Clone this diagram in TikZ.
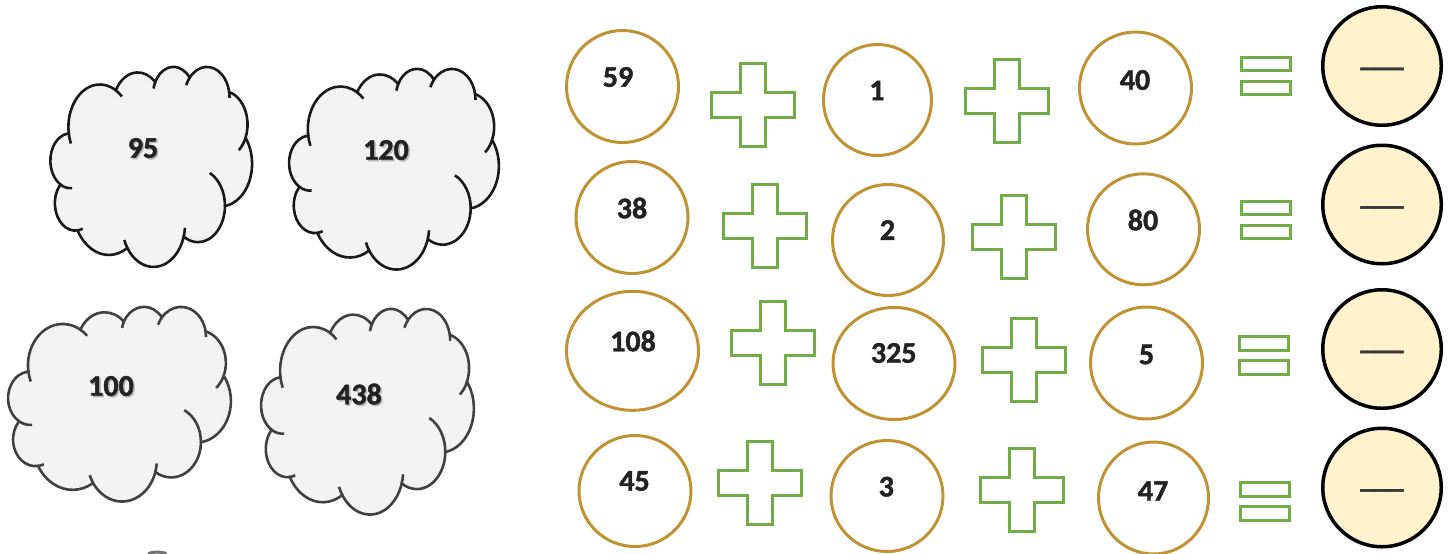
\documentclass[tikz,border=0pt]{standalone}
\usepackage{fontspec}
\setmainfont{Carlito}[BoldFont={Carlito Bold}, BoldFeatures={FakeBold=1.5}]
\usetikzlibrary{shapes.geometric}
\definecolor{ringgold}{RGB}{191,146,52}
\definecolor{plusgreen}{RGB}{112,173,71}
\definecolor{ansfill}{RGB}{255,242,204}
\definecolor{cloudfill}{RGB}{242,242,242}
\definecolor{numtext}{RGB}{34,34,34}
\begin{document}
\begin{tikzpicture}[x=0.5pt, y=-0.5pt,
		num/.style={font=\bfseries\fontsize{15}{18}\selectfont, text=numtext, inner sep=0pt},
		shade/.style={num, text=black!28},
		ring/.style 2 args={ellipse, draw=ringgold, line width=1.5pt, inner sep=0pt, minimum width=#1*0.5pt, minimum height=#2*0.5pt},
		answer/.style={circle, draw=black, line width=1.75pt, fill=ansfill, inner sep=0pt, minimum size=59.25pt},
		blank/.style={font=\bfseries\fontsize{14.5}{18}\selectfont, text=black!78, inner sep=0pt, anchor=base},
		plusline/.style={draw=plusgreen, line width=1.5pt},
		pics/plussign/.style={code={
			\draw[plusline] (-41.5,-12.5) -- (-12.5,-12.5) -- (-12.5,-41.5) -- (12.5,-41.5) -- (12.5,-12.5) -- (41.5,-12.5)
				-- (41.5,12.5) -- (12.5,12.5) -- (12.5,41.5) -- (-12.5,41.5) -- (-12.5,12.5) -- (-41.5,12.5) -- cycle;
		}},
		pics/equalsign/.style={code={
			\draw[plusline] (-24.5,-19) rectangle (24.5,-5.5);
			\draw[plusline] (-24.5,5) rectangle (24.5,18.5);
		}},
		pics/puffcloud/.style 2 args={code={
			\begin{scope}[xscale=#1/100, yscale=#2/100, line width=1.3pt]
			\draw[fill=cloudfill] (9.028,33.264)
				arc[start angle=-187.745, end angle=-59.63, x radius=15.632, y radius=21.273]
				arc[start angle=-152.02, end angle=-45.45, x radius=12.345, y radius=16.822]
				arc[start angle=-153.50, end angle=-37.33, x radius=10.104, y radius=13.762]
				arc[start angle=-139.72, end angle=-10.21, x radius=11.243, y radius=15.266]
				arc[start angle=-74.77, end angle=23.21, x radius=12.345, y radius=16.836]
				arc[start angle=-37.53, end angle=81.86, x radius=15.683, y radius=21.343]
				arc[start angle=0.46, end angle=121.97, x radius=13.391, y radius=18.211]
				arc[start angle=16.85, end angle=146.24, x radius=15.630, y radius=21.331]
				arc[start angle=58.98, end angle=150.20, x radius=17.870, y radius=24.405]
				arc[start angle=83.31, end angle=223.11, x radius=10.093, y radius=13.699]
				arc[start angle=120.36, end angle=264.11, x radius=10.058, y radius=13.762]
				-- cycle;
			% inner folds of the puffs
			\draw (10.753,60.986) arc[start angle=85.55, end angle=120.36, x radius=10.058, y radius=13.762]
				(16.000,81.224) arc[start angle=68.23, end angle=83.31, x radius=10.093, y radius=13.699]
				(38.153,90.891) arc[start angle=146.24, end angle=158.47, x radius=15.630, y radius=21.331]
				(66.724,80.799) arc[start angle=4.74, end angle=16.85, x radius=15.630, y radius=21.331]
				(79.060,53.398) arc[start angle=-64.03, end angle=0.46, x radius=13.391, y radius=18.211]
				(96.804,35.788) arc[start angle=23.21, end angle=49.65, x radius=12.345, y radius=16.836]
				(88.701,12.908) arc[start angle=-10.21, end angle=0.82, x radius=11.243, y radius=15.266]
				(67.343,9.473) arc[start angle=-156.28, end angle=-139.72, x radius=11.243, y radius=15.266]
				(51.152,11.164) arc[start angle=-167.73, end angle=-153.50, x radius=10.104, y radius=13.762]
				(32.421,12.044) arc[start angle=-59.63, end angle=-45.74, x radius=15.632, y radius=21.273]
				(10.118,38.679) arc[start angle=157.09, end angle=172.71, x radius=15.632, y radius=21.273];
			\end{scope}
		}}]
	\useasboundingbox (0,0) rectangle (1454,553);
	
	% clouds
	\pic[color=black!90] (c95) at (50.5,66.2) {puffcloud={201.5}{200}};
	\pic[color=black!90] (c120) at (289.2,68.2) {puffcloud={209.6}{200.6}};
	\pic[color=black!75] (c100) at (8.2,306.2) {puffcloud={222.6}{194.6}};
	\pic[color=black!75] (c438) at (261.2,308.2) {puffcloud={212.6}{205.6}};
	
	\node[shade] (s95) at (144.5,149.5) {95};
	\node[num] (t95) at (143,148) {95};
	\node[shade] (s120) at (387.5,151.5) {120};
	\node[num] (t120) at (386,150) {120};
	\node[shade] (s100) at (112.5,387.5) {100};
	\node[num] (t100) at (111,386) {100};
	\node[shade] (s438) at (360.5,395.5) {438};
	\node[num] (t438) at (359,394) {438};
	
	% row 1
	\node[ring={112}{112}] (r59) at (622.5,86.5) {};
	\node[num] (t59) at (618,77) {59};
	\pic (p11) at (752.5,105) {plussign};
	\node[ring={108}{111}] (r1) at (877.5,100) {};
	\node[num] (t1) at (877,90.5) {1};
	\pic (p12) at (1006.5,101) {plussign};
	\node[ring={112}{112}] (r40) at (1135.5,88) {};
	\node[num] (t40) at (1135,80) {40};
	\pic (e1) at (1265.5,76) {equalsign};
	\node[answer] (a1) at (1382,66) {};
	\node[blank] (b1) at (1382,66) {\_\_\_};
	
	% row 2
	\node[ring={112}{112}] (r38) at (632,217.5) {};
	\node[num] (t38) at (632,208) {38};
	\pic (p21) at (764.5,225.5) {plussign};
	\node[ring={111}{111}] (r2) at (888,240) {};
	\node[num] (t2) at (887.5,230) {2};
	\pic (p22) at (1014,236.5) {plussign};
	\node[ring={112}{111}] (r80) at (1143.5,229.3) {};
	\node[num] (t80) at (1143,220) {80};
	\pic (e2) at (1265.5,220) {equalsign};
	\node[answer] (a2) at (1382,204.5) {};
	\node[blank] (b2) at (1382,204.5) {\_\_\_};
	
	% row 3
	\node[ring={132}{119}] (r108) at (632.5,350.8) {};
	\node[num] (t108) at (633,341) {108};
	\pic (p31) at (773,342.5) {plussign};
	\node[ring={122}{112}] (r325) at (894,363.5) {};
	\node[num] (t325) at (893.7,353) {325};
	\pic (p32) at (1024,359.5) {plussign};
	\node[ring={112}{112}] (r5) at (1146.5,363) {};
	\node[num] (t5) at (1146.5,354.5) {5};
	\pic (e3) at (1263.5,355.5) {equalsign};
	\node[answer] (a3) at (1382,349) {};
	\node[blank] (b3) at (1382,349) {\_\_\_};
	
	% row 4
	\node[ring={112}{111}] (r45) at (635,491) {};
	\node[num] (t45) at (634.5,481) {45};
	\pic (p41) at (760,483) {plussign};
	\node[ring={112}{111}] (r3) at (887,496) {};
	\node[num] (t3) at (886.3,486.7) {3};
	\pic (p42) at (1022,490) {plussign};
	\node[ring={110}{112}] (r47) at (1153.5,498) {};
	\node[num] (t47) at (1153,491) {47};
	\pic (e4) at (1265,501.5) {equalsign};
	\node[answer] (a4) at (1382,487.5) {};
	\node[blank] (b4) at (1382,487.5) {\_\_\_};
	
	\draw[black!55, line width=1.5pt] (148,553.5) arc[start angle=-108, end angle=-72, radius=30];
\end{tikzpicture}
\end{document}
